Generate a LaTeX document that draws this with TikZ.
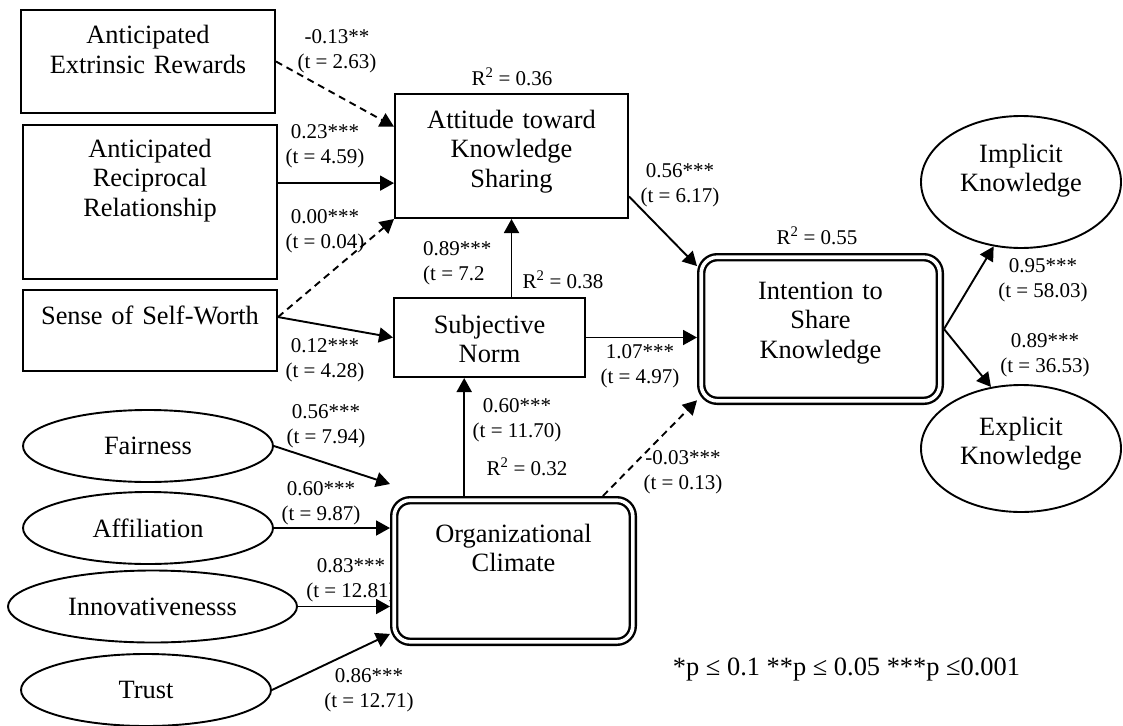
\documentclass[tikz,border=0pt]{standalone}
\usepackage{fontspec}
\setmainfont{Liberation Serif}
\usetikzlibrary{arrows.meta,shapes.geometric}
\newcommand{\mainsz}{\fontsize{26.4}{29.5}\selectfont}
\newcommand{\labsz}{\fontsize{21}{25}\selectfont}
\tikzset{
    box/.style={draw, line width=2pt, inner sep=0pt, align=center, font=\mainsz},
    dbox/.style={draw, double, line width=2.4pt, double distance=3.6pt, rounded corners=16pt,
        inner sep=0pt, outer sep=4.2pt, fill=white, align=center, font=\mainsz},
    oval/.style={draw, ellipse, line width=1.9pt, inner sep=0pt, align=center, font=\mainsz},
    lab/.style={align=center, font=\labsz, inner sep=0pt},
    arr/.style={line width=1.9pt, ->},
    darr/.style={arr, dash pattern=on 7pt off 5pt}
}
\begin{document}
\begin{tikzpicture}[x=1pt, y=-1pt, >={Triangle[length=14pt,width=15pt]}]
\useasboundingbox (0,0) rectangle (1123,725);

% antecedents
\node[box, text width=254pt, text height=34pt, text depth=69pt] (ext) at (148,61.5) {Anticipated\\Extrinsic Rewards};
\node[box, text width=254pt, text height=32pt, text depth=122pt] (rec) at (150,202) {Anticipated\\Reciprocal\\Relationship};
\node[box, text width=254pt, text height=34pt, text depth=47pt] (ssw) at (150,330.5) {Sense of Self-Worth};

\node[oval, minimum width=250pt, minimum height=72pt] (fair) at (148,446) {Fairness};
\node[oval, minimum width=250pt, minimum height=72pt] (aff) at (148,528) {Affiliation};
\node[oval, minimum width=289pt, minimum height=72pt] (inn) at (152.5,606.5) {Innovativenesss};
\node[oval, minimum width=250pt, minimum height=72pt] (tru) at (146,690) {Trust};

\node[lab] (w-inn) at (351,580) {0.83***\\(t = 12.81)};

% constructs
\node[box, text width=233pt, text height=34pt, text depth=90pt] (att) at (511.5,156) {Attitude toward\\Knowledge\\Sharing};
\node[box, text width=191pt, text height=35pt, text depth=44pt] (sn) at (489.5,337.5) {Subjective\\Norm};
\node[dbox, text width=238.6pt, text height=41.8pt, text depth=99.8pt] (orc) at (513.5,571) {Organizational\\Climate};
\node[dbox, text width=238.6pt, text height=41.8pt, text depth=101.8pt] (isk) at (820.5,329) {Intention to\\Share\\Knowledge};

\node[oval, minimum width=200pt, minimum height=132pt, text width=130pt, text height=20pt, text depth=60pt] (imp) at (1021,182) {Implicit\\Knowledge};
\node[oval, minimum width=200pt, minimum height=127pt, text width=130pt, text height=20pt, text depth=47pt] (exp) at (1021,448.5) {Explicit\\Knowledge};

% paths
\draw[darr] (ext.east) -- (att.166);
\draw[arr] (att.193 -| rec.east) -- (att.193);
\draw[darr] (ssw.6) -- (att.south west);
\draw[arr] (ssw.6) -- (sn.west);
\draw[arr] (att.south |- sn.north) -- (att.south);
\draw[arr] (att.-19.8) -- (isk.153);
\draw[arr] (sn.east) -- (sn.east -| isk.west);
\draw[arr] (orc.north -| sn.238) -- (sn.238);
\draw[darr] (orc.40.4) -- (isk.210);

\draw[arr] (fair.east) -- ([yshift=12pt]orc.north west);
\draw[arr] (aff.east) -- (aff.east -| orc.west);
\draw[arr] (inn.east) -- (inn.east -| orc.west);
\draw[arr] (tru.east) -- (orc.207.5);

\draw[arr] (isk.east) -- (imp.247);
\draw[arr] (isk.east) -- (exp.116);

% coefficients
\node[lab] (w-ext) at (337,51.5) {-0.13**\\(t = 2.63)};
\node[lab] (w-rec) at (325,146.5) {0.23***\\(t = 4.59)};
\node[lab] (w-ssa) at (325,231) {0.00***\\(t = 0.04)};
\node[lab] (w-ssn) at (325,360) {0.12***\\(t = 4.28)};
\node[lab] (w-fair) at (326,426.5) {0.56***\\(t = 7.94)};
\node[lab] (w-aff) at (321,503) {0.60***\\(t = 9.87)};
\node[lab] (w-tru) at (369,690.5) {0.86***\\(t = 12.71)};
\node[lab, align=left, anchor=west] (w-sna) at (423,263.5) {0.89***\\(t = 7.2};
\node[lab] (w-att) at (680,185) {0.56***\\(t = 6.17)};
\node[lab] (w-sn) at (640,366.5) {1.07***\\(t = 4.97)};
\node[lab] (w-orc) at (517,420.5) {0.60***\\(t = 11.70)};
\node[lab] (w-oi) at (683,472.5) {-0.03***\\(t = 0.13)};
\node[lab] (w-imp) at (1043,280) {0.95***\\(t = 58.03)};
\node[lab] (w-exp) at (1045,355.5) {0.89***\\(t = 36.53)};

\node[lab] (r-att) at (512,77) {R\textsuperscript{2} = 0.36};
\node[lab] (r-sn) at (563,280) {R\textsuperscript{2} = 0.38};
\node[lab] (r-orc) at (527,467) {R\textsuperscript{2} = 0.32};
\node[lab] (r-isk) at (817,236) {R\textsuperscript{2} = 0.55};

\node[font=\mainsz, anchor=base, inner sep=0pt] (note) at (846.5,675) {*p ≤ 0.1 **p ≤ 0.05 ***p ≤0.001};
\end{tikzpicture}
\end{document}
